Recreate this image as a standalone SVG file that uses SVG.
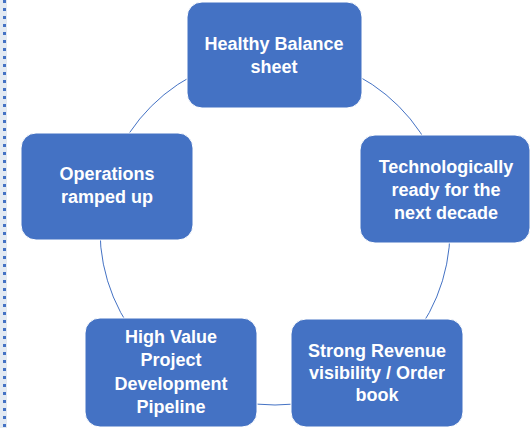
<svg xmlns="http://www.w3.org/2000/svg" width="531" height="428" viewBox="0 0 531 428">
<style>
.box{fill:#4472C4;stroke:#ffffff;stroke-width:1}
.lbl{font-family:"Liberation Sans",Arial,sans-serif;font-weight:bold;font-size:18px;fill:#ffffff;text-anchor:middle}
.conn{fill:none;stroke:#4472C4;stroke-width:1}
</style>
<rect x="0" y="0" width="531" height="428" fill="#ffffff"/>
<g id="edge-decoration">
<rect x="0" y="0" width="7" height="428" fill="#e3eaf2"/>
<line x1="4.5" y1="0" x2="4.5" y2="428" stroke="#4472C4" stroke-width="3" stroke-dasharray="3 5"/>
</g>
<g id="connectors">
<circle class="conn" cx="275" cy="230" r="175"/>
</g>
<g id="node-balance">
<rect class="box" x="187" y="2" width="175" height="106" rx="15"/>
<text class="lbl" x="274" y="50">Healthy Balance</text>
<text class="lbl" x="274" y="73">sheet</text>
</g>
<g id="node-tech">
<rect class="box" x="360" y="135" width="170" height="108" rx="15"/>
<text class="lbl" x="446" y="173">Technologically</text>
<text class="lbl" x="446" y="196">ready for the</text>
<text class="lbl" x="446" y="219">next decade</text>
</g>
<g id="node-revenue">
<rect class="box" x="291" y="319" width="172" height="108" rx="15"/>
<text class="lbl" x="377" y="357">Strong Revenue</text>
<text class="lbl" x="377" y="379">visibility / Order</text>
<text class="lbl" x="377" y="401">book</text>
</g>
<g id="node-pipeline">
<rect class="box" x="85" y="318" width="172" height="109" rx="15"/>
<text class="lbl" x="171" y="343">High Value</text>
<text class="lbl" x="171" y="366">Project</text>
<text class="lbl" x="171" y="390">Development</text>
<text class="lbl" x="171" y="413">Pipeline</text>
</g>
<g id="node-operations">
<rect class="box" x="21" y="133" width="172" height="107" rx="15"/>
<text class="lbl" x="107" y="180">Operations</text>
<text class="lbl" x="107" y="203">ramped up</text>
</g>
</svg>
